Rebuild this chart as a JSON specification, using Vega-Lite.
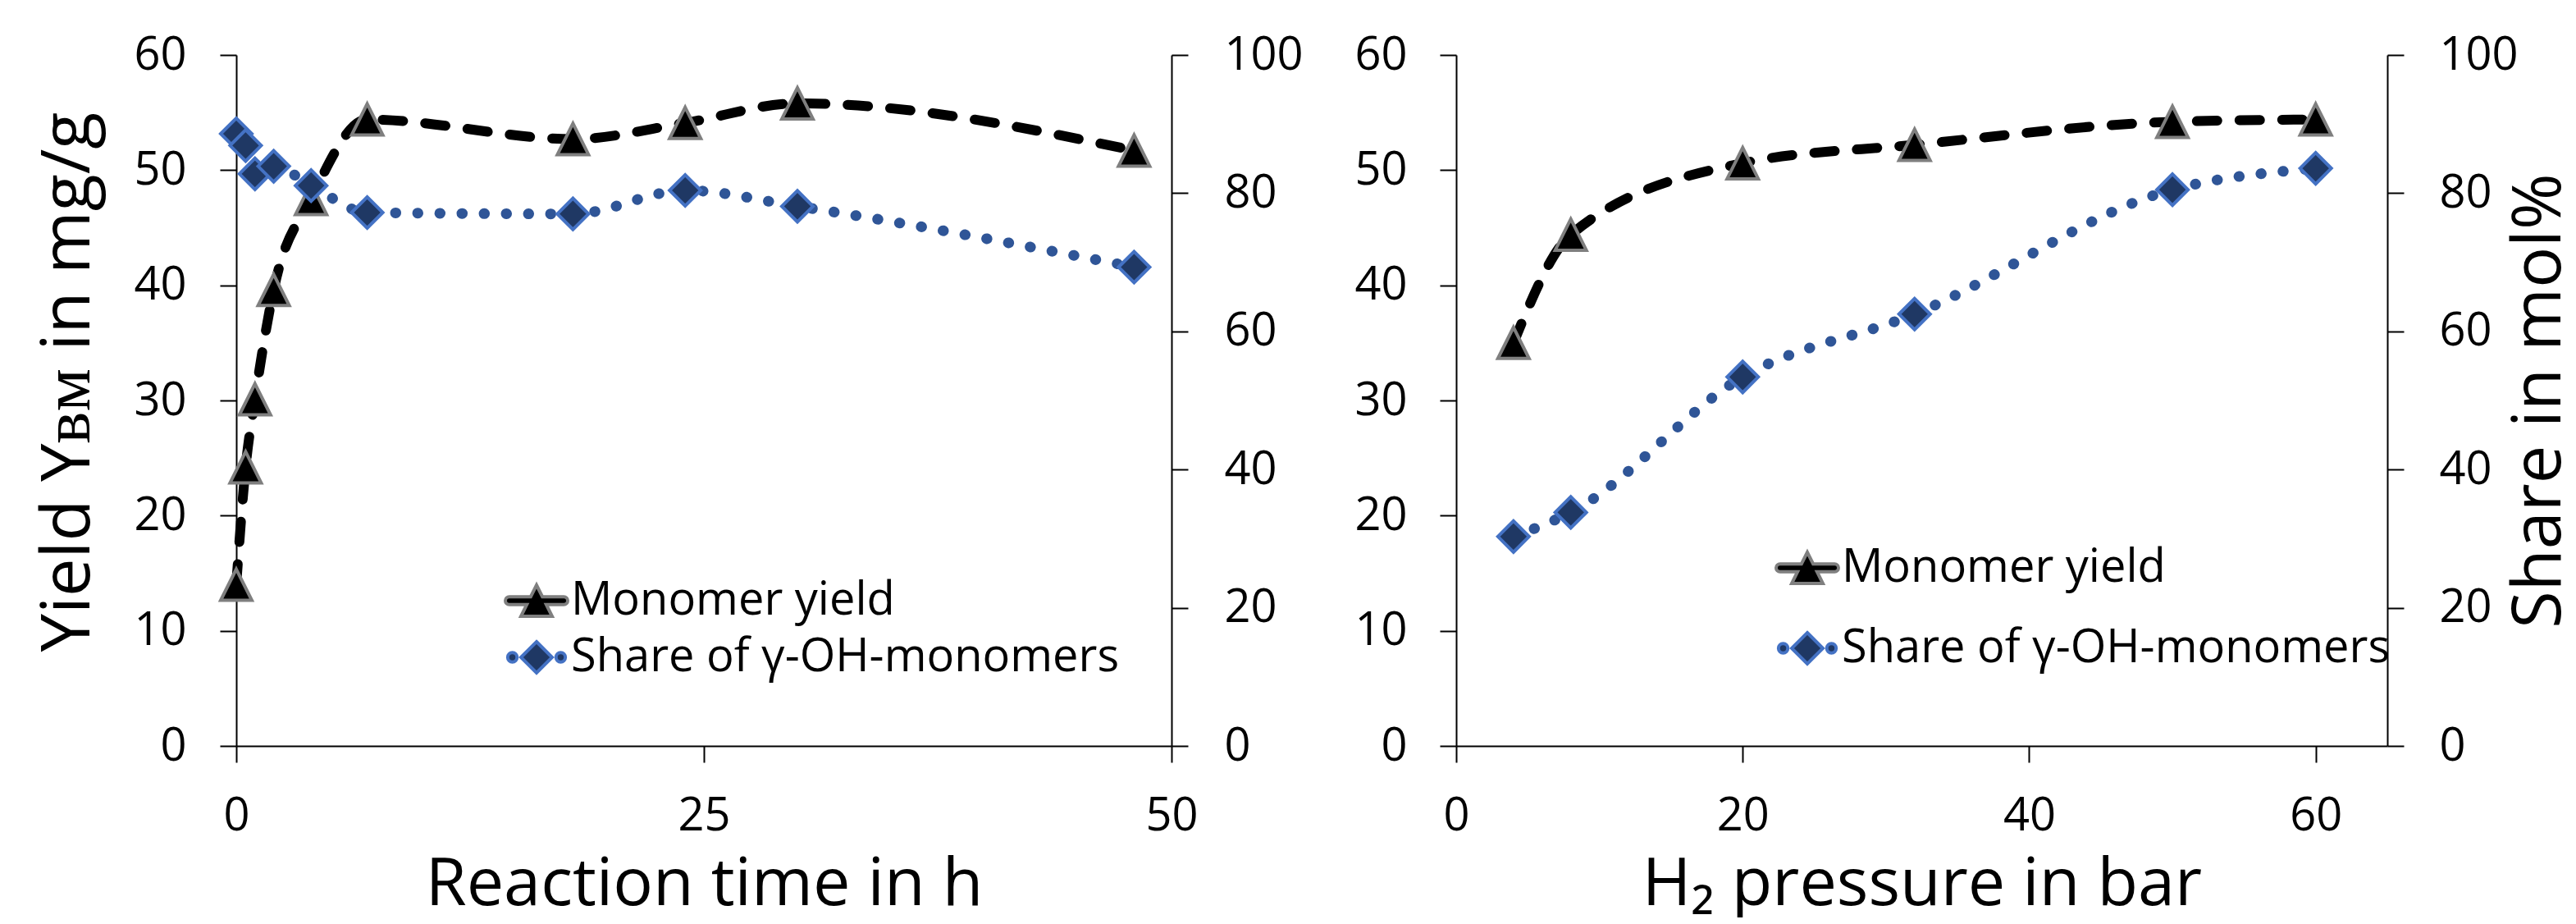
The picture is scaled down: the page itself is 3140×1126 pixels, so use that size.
{
  "$schema": "https://vega.github.io/schema/vega-lite/v6.json",
  "background": "white",
  "padding": {"left": 42, "top": 39, "right": 2, "bottom": 0},
  "spacing": 61,
  "config": {
    "font": "Open Sans",
    "view": {"stroke": null},
    "axis": {
      "grid": false,
      "domainColor": "black",
      "domainWidth": 2,
      "tickColor": "black",
      "tickWidth": 2,
      "tickSize": 20,
      "labelFont": "Open Sans",
      "labelFontSize": 56,
      "labelColor": "black",
      "labelFlush": false,
      "labelOverlap": false,
      "titleColor": "black",
      "titleFontWeight": "normal"
    },
    "legend": {
      "labelFont": "Open Sans",
      "labelFontSize": 56,
      "labelColor": "black",
      "labelLimit": 0,
      "padding": 0,
      "title": null,
      "symbolOpacity": 1,
      "symbolStrokeWidth": 4
    }
  },
  "datasets": {
    "time": [
      {"t": 0, "series": "Monomer yield", "v": 14.0},
      {"t": 0.5, "series": "Monomer yield", "v": 24.2},
      {"t": 1, "series": "Monomer yield", "v": 30.1},
      {"t": 2, "series": "Monomer yield", "v": 39.6},
      {"t": 4, "series": "Monomer yield", "v": 47.5},
      {"t": 7, "series": "Monomer yield", "v": 54.4},
      {"t": 18, "series": "Monomer yield", "v": 52.7},
      {"t": 24, "series": "Monomer yield", "v": 54.1},
      {"t": 30, "series": "Monomer yield", "v": 55.8},
      {"t": 48, "series": "Monomer yield", "v": 51.7},
      {"t": 0, "series": "Share of γ-OH-monomers", "v": 88.6},
      {"t": 0.5, "series": "Share of γ-OH-monomers", "v": 86.9},
      {"t": 1, "series": "Share of γ-OH-monomers", "v": 82.8},
      {"t": 2, "series": "Share of γ-OH-monomers", "v": 83.9},
      {"t": 4, "series": "Share of γ-OH-monomers", "v": 81.1},
      {"t": 7, "series": "Share of γ-OH-monomers", "v": 77.2},
      {"t": 18, "series": "Share of γ-OH-monomers", "v": 77.0},
      {"t": 24, "series": "Share of γ-OH-monomers", "v": 80.4},
      {"t": 30, "series": "Share of γ-OH-monomers", "v": 78.1},
      {"t": 48, "series": "Share of γ-OH-monomers", "v": 69.3}
    ],
    "pressure": [
      {"p": 4, "series": "Monomer yield", "v": 35.0},
      {"p": 8, "series": "Monomer yield", "v": 44.4},
      {"p": 20, "series": "Monomer yield", "v": 50.6},
      {"p": 32, "series": "Monomer yield", "v": 52.2},
      {"p": 50, "series": "Monomer yield", "v": 54.2},
      {"p": 60, "series": "Monomer yield", "v": 54.4},
      {"p": 4, "series": "Share of γ-OH-monomers", "v": 30.3},
      {"p": 8, "series": "Share of γ-OH-monomers", "v": 33.8},
      {"p": 20, "series": "Share of γ-OH-monomers", "v": 53.4},
      {"p": 32, "series": "Share of γ-OH-monomers", "v": 62.5},
      {"p": 50, "series": "Share of γ-OH-monomers", "v": 80.5},
      {"p": 60, "series": "Share of γ-OH-monomers", "v": 83.6}
    ]
  },
  "resolve": {"scale": {"shape": "independent", "fill": "independent", "stroke": "independent"}},
  "hconcat": [
    {
      "width": 1140,
      "height": 842,
      "data": {"name": "time"},
      "encoding": {
        "x": {
          "field": "t", "type": "quantitative",
          "scale": {"domain": [0, 50], "nice": false, "zero": false},
          "axis": {"values": [0, 25, 50], "title": "Reaction time in h", "titleFont": "Open Sans", "titleFontSize": 81, "labelPadding": 38, "titlePadding": 16}
        }
      },
      "layer": [
        {
          "transform": [{"filter": "datum.series === 'Monomer yield'"}],
          "encoding": {
            "y": {
              "field": "v", "type": "quantitative",
              "scale": {"domain": [0, 60], "nice": false},
              "axis": {"orient": "left", "values": [0, 10, 20, 30, 40, 50, 60], "title": "Yield Yʙᴍ in mg/g", "titleFont": "Open Sans", "titleFontSize": 83, "labelPadding": 41, "titlePadding": 37, "titleY": 398}
            }
          },
          "layer": [
            {"mark": {"type": "line", "interpolate": "monotone", "stroke": "black", "strokeWidth": 12, "strokeDash": [25, 27], "strokeCap": "round"}, "encoding": {}}
          ]
        },
        {
          "transform": [{"filter": "datum.series !== 'Monomer yield'"}],
          "encoding": {
            "y": {
              "field": "v", "type": "quantitative",
              "scale": {"domain": [0, 100], "nice": false},
              "axis": {"orient": "right", "values": [0, 20, 40, 60, 80, 100], "title": null, "labelPadding": 44}
            }
          },
          "layer": [
            {"mark": {"type": "line", "interpolate": "monotone", "stroke": "#2F5597", "strokeWidth": 13, "strokeDash": [0.5, 26.5], "strokeCap": "round"}, "encoding": {}}
          ]
        },
        {
          "transform": [{"filter": "datum.series === 'Monomer yield'"}],
          "encoding": {
            "y": {"field": "v", "type": "quantitative", "scale": {"domain": [0, 60], "nice": false}, "axis": null}
          },
          "mark": {"type": "point", "shape": "M0,-1L1,1L-1,1Z", "filled": true, "size": 1444, "strokeWidth": 4, "opacity": 1, "fill": "black", "stroke": "#7F7F7F"}
        },
        {
          "transform": [{"filter": "datum.series !== 'Monomer yield'"}],
          "encoding": {
            "y": {"field": "v", "type": "quantitative", "scale": {"domain": [0, 100], "nice": false}, "axis": null}
          },
          "mark": {"type": "point", "shape": "diamond", "filled": true, "size": 1444, "strokeWidth": 4, "opacity": 1, "fill": "#1F3864", "stroke": "#4472C4"}
        },
        {
          "encoding": {
            "y": {"field": "v", "type": "quantitative", "scale": {"domain": [0, 100], "nice": false}, "axis": null},
            "shape": {"field": "series", "type": "nominal",
              "scale": {"domain": ["Monomer yield", "Share of γ-OH-monomers"], "range": ["M0,-1L0.375,-0.25H1.75A0.25,0.25 0 0 1 1.75,0.25H0.625L1,1H-1L-0.625,0.25H-1.75A0.25,0.25 0 0 1 -1.75,-0.25H-0.375Z", "M0,-1L1,0L0,1L-1,0Z M1.25,0A0.3,0.3 0 1 0 1.85,0A0.3,0.3 0 1 0 1.25,0Z M-1.85,0A0.3,0.3 0 1 0 -1.25,0A0.3,0.3 0 1 0 -1.85,0Z"]},
              "legend": {"orient": "none", "legendX": 338, "legendY": 637, "symbolSize": 1444, "labelOffset": 14, "rowPadding": 13}},
            "fill": {"field": "series", "type": "nominal",
              "scale": {"domain": ["Monomer yield", "Share of γ-OH-monomers"], "range": ["black", "#1F3864"]},
              "legend": {"orient": "none", "legendX": 338, "legendY": 637, "symbolSize": 1444, "labelOffset": 14, "rowPadding": 13}},
            "stroke": {"field": "series", "type": "nominal",
              "scale": {"domain": ["Monomer yield", "Share of γ-OH-monomers"], "range": ["#7F7F7F", "#4472C4"]},
              "legend": {"orient": "none", "legendX": 338, "legendY": 637, "symbolSize": 1444, "labelOffset": 14, "rowPadding": 13}}
          },
          "mark": {"type": "point", "filled": true, "size": 1444, "strokeWidth": 4, "opacity": 0}
        }
      ],
      "resolve": {"scale": {"y": "independent"}}
    },
    {
      "width": 1135,
      "height": 842,
      "data": {"name": "pressure"},
      "encoding": {
        "x": {
          "field": "p", "type": "quantitative",
          "scale": {"domain": [0, 65], "nice": false, "zero": false},
          "axis": {"values": [0, 20, 40, 60], "title": "H₂ pressure in bar", "titleFont": "Open Sans", "titleFontSize": 81, "labelPadding": 38, "titlePadding": 16}
        }
      },
      "layer": [
        {
          "transform": [{"filter": "datum.series === 'Monomer yield'"}],
          "encoding": {
            "y": {
              "field": "v", "type": "quantitative",
              "scale": {"domain": [0, 60], "nice": false},
              "axis": {"orient": "left", "values": [0, 10, 20, 30, 40, 50, 60], "title": null, "labelPadding": 40}
            }
          },
          "layer": [
            {"mark": {"type": "line", "interpolate": "monotone", "stroke": "black", "strokeWidth": 12, "strokeDash": [25, 27], "strokeCap": "round"}, "encoding": {}}
          ]
        },
        {
          "transform": [{"filter": "datum.series !== 'Monomer yield'"}],
          "encoding": {
            "y": {
              "field": "v", "type": "quantitative",
              "scale": {"domain": [0, 100], "nice": false},
              "axis": {"orient": "right", "values": [0, 20, 40, 60, 80, 100], "title": "Share in mol%", "titleAngle": 270, "titleBaseline": "top", "titleFont": "Open Sans", "titleFontSize": 83, "labelPadding": 43, "titlePadding": -15}
            }
          },
          "layer": [
            {"mark": {"type": "line", "interpolate": "monotone", "stroke": "#2F5597", "strokeWidth": 13, "strokeDash": [0.5, 26.5], "strokeCap": "round"}, "encoding": {}}
          ]
        },
        {
          "transform": [{"filter": "datum.series === 'Monomer yield'"}],
          "encoding": {
            "y": {"field": "v", "type": "quantitative", "scale": {"domain": [0, 60], "nice": false}, "axis": null}
          },
          "mark": {"type": "point", "shape": "M0,-1L1,1L-1,1Z", "filled": true, "size": 1444, "strokeWidth": 4, "opacity": 1, "fill": "black", "stroke": "#7F7F7F"}
        },
        {
          "transform": [{"filter": "datum.series !== 'Monomer yield'"}],
          "encoding": {
            "y": {"field": "v", "type": "quantitative", "scale": {"domain": [0, 100], "nice": false}, "axis": null}
          },
          "mark": {"type": "point", "shape": "diamond", "filled": true, "size": 1444, "strokeWidth": 4, "opacity": 1, "fill": "#1F3864", "stroke": "#4472C4"}
        },
        {
          "encoding": {
            "y": {"field": "v", "type": "quantitative", "scale": {"domain": [0, 100], "nice": false}, "axis": null},
            "shape": {"field": "series", "type": "nominal",
              "scale": {"domain": ["Monomer yield", "Share of γ-OH-monomers"], "range": ["M0,-1L0.375,-0.25H1.75A0.25,0.25 0 0 1 1.75,0.25H0.625L1,1H-1L-0.625,0.25H-1.75A0.25,0.25 0 0 1 -1.75,-0.25H-0.375Z", "M0,-1L1,0L0,1L-1,0Z M1.25,0A0.3,0.3 0 1 0 1.85,0A0.3,0.3 0 1 0 1.25,0Z M-1.85,0A0.3,0.3 0 1 0 -1.25,0A0.3,0.3 0 1 0 -1.85,0Z"]},
              "legend": {"orient": "none", "legendX": 400, "legendY": 597, "symbolSize": 1444, "labelOffset": 14, "rowPadding": 42}},
            "fill": {"field": "series", "type": "nominal",
              "scale": {"domain": ["Monomer yield", "Share of γ-OH-monomers"], "range": ["black", "#1F3864"]},
              "legend": {"orient": "none", "legendX": 400, "legendY": 597, "symbolSize": 1444, "labelOffset": 14, "rowPadding": 42}},
            "stroke": {"field": "series", "type": "nominal",
              "scale": {"domain": ["Monomer yield", "Share of γ-OH-monomers"], "range": ["#7F7F7F", "#4472C4"]},
              "legend": {"orient": "none", "legendX": 400, "legendY": 597, "symbolSize": 1444, "labelOffset": 14, "rowPadding": 42}}
          },
          "mark": {"type": "point", "filled": true, "size": 1444, "strokeWidth": 4, "opacity": 0}
        }
      ],
      "resolve": {"scale": {"y": "independent"}}
    }
  ]
}
